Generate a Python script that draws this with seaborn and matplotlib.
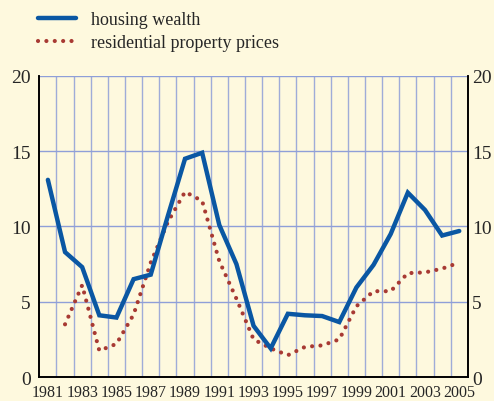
import numpy as np
import pandas as pd
import matplotlib
matplotlib.use("Agg")
import matplotlib.pyplot as plt
import seaborn as sns
from matplotlib.lines import Line2D

# data (annual growth, %)
years = list(range(1981, 2006))
housing_wealth = [13.1, 8.3, 7.3, 4.1, 3.95, 6.5, 6.8, 10.7, 14.5, 14.9, 10.1, 7.5,
                  3.4, 1.9, 4.2, 4.1, 4.05, 3.65, 5.95, 7.45, 9.5, 12.25, 11.1, 9.4, 9.7]
property_prices = [np.nan, 3.5, 6.1, 1.75, 2.2, 4.15, 7.6, 10.3, 12.3, 11.7, 7.7, 5.2,
                   2.5, 1.9, 1.45, 2.0, 2.1, 2.5, 4.7, 5.7, 5.7, 6.9, 6.95, 7.2, 7.6]
year_labels = list(range(1981, 2006, 2))
y_ticks = [0, 5, 10, 15, 20]

df = pd.DataFrame({"year": years, "housing wealth": housing_wealth,
                   "residential property prices": property_prices})

sns.set_theme(style="white")
plt.rcParams['font.family'] = ['Liberation Serif', 'DejaVu Serif']

bg = '#fef9de'
blue = '#0a57a3'
red = '#a83a33'
grid_col = '#8f9fd8'
dots = (0, (0.01, 2.0))

fig = plt.figure(figsize=(4.94, 4.02), dpi=100, facecolor=bg)
ax = fig.add_axes([0.0796, 0.0597, 0.8674, 0.7488], facecolor=bg)

sns.lineplot(data=df, x="year", y="housing wealth", ax=ax, color=blue, linewidth=3.2,
             solid_joinstyle='miter', zorder=4)
sns.lineplot(data=df, x="year", y="residential property prices", ax=ax, color=red,
             linewidth=3.0, linestyle=dots, dash_capstyle='round', zorder=3)

ax.set_xlim(1980.5, 2005.5)
ax.set_ylim(0, 20)

# year labels on the odd years, ticks + vertical grid on the year boundaries
ax.set_xticks(year_labels)
ax.set_xticklabels([str(y) for y in year_labels], fontsize=11.5)
ax.set_xticks(np.arange(1981.5, 2005.5, 1), minor=True)
ax.tick_params(axis='x', which='major', length=0, pad=5)
ax.tick_params(axis='x', which='minor', length=4, width=1, color='black', direction='out')
ax.grid(axis='x', which='minor', color=grid_col, linewidth=1.0, alpha=0.85)

ax.set_yticks(y_ticks)
ax.set_yticklabels([str(v) for v in y_ticks], fontsize=14)
ax.tick_params(axis='y', length=0, pad=6)
ax.grid(axis='y', which='major', color=grid_col, linewidth=1.0)

# same scale repeated on the right
ax2 = ax.twinx()
ax2.set_ylim(0, 20)
ax2.set_yticks(y_ticks)
ax2.set_yticklabels([str(v) for v in y_ticks], fontsize=14)
ax2.tick_params(axis='y', length=0, pad=3)
ax2.grid(False)

for a in (ax, ax2):
    for side in ['left', 'bottom', 'right']:
        a.spines[side].set_color('black')
        a.spines[side].set_linewidth(1.2)
    a.spines['top'].set_visible(False)
    a.set_xlabel('')
    a.set_ylabel('')

handles = [Line2D([], [], color=blue, linewidth=3.2),
           Line2D([], [], color=red, linewidth=3.0, linestyle=dots,
                  dash_capstyle='round')]
fig.legend(handles, ["housing wealth", "residential property prices"],
           loc='upper left', bbox_to_anchor=(0.056, 0.997), frameon=False,
           fontsize=13, handlelength=2.05, handletextpad=0.85, labelspacing=0.35,
           borderaxespad=0.2)

fig.savefig('out.png', dpi=100, facecolor=bg)
